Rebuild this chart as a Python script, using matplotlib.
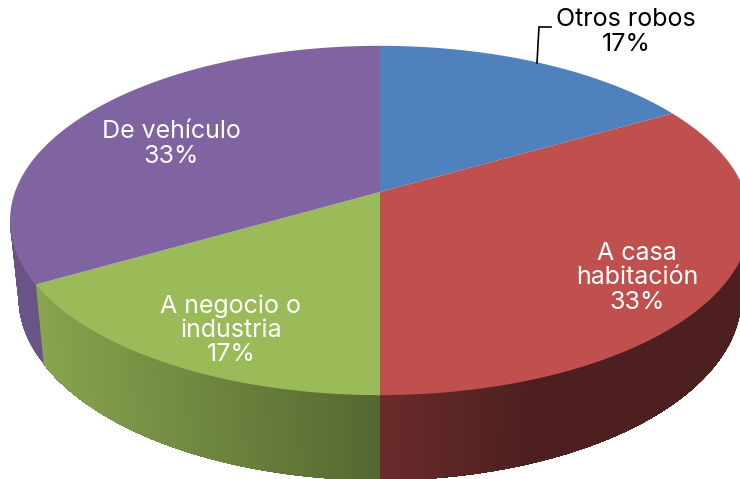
import numpy as np
import matplotlib
matplotlib.use("Agg")
import matplotlib.pyplot as plt

categories = ["Otros robos", "A casa\nhabitación", "A negocio o\nindustria", "De vehículo"]
shares = [16.67, 33.33, 16.67, 33.33]
colors = ["#4F81BD", "#C0504D", "#9BBB59", "#8064A2"]

# projection of the tilted disc, in pixels
CX, CY = 380.0, 192.0
A, B, P = 365.0, 170.0, 0.163
BOT_CY, BOT_SX, BOT_SY = 267.0, 0.977, 1.05
TANGENT = np.degrees(np.arccos(-P))


def top_rim(t):
    w = 1 + P * np.cos(t)
    return CX + A * np.sin(t) / w, CY - B * np.cos(t) / w


def bottom_rim(t):
    w = 1 + P * np.cos(t)
    return CX + BOT_SX * A * np.sin(t) / w, BOT_CY - BOT_SY * B * np.cos(t) / w


def shade(x, floor):
    f = np.interp(x, [35, 380, 530], [0.88, 0.55, 0.40])
    return min(f, floor)


plt.rcParams["font.family"] = ["Inter", "DejaVu Sans"]
fig = plt.figure(figsize=(7.40, 4.79), dpi=100)
ax = fig.add_axes([0, 0, 1, 1])
ax.set_xlim(0, 740)
ax.set_ylim(479, 0)
ax.axis("off")

edges = np.radians(np.concatenate([[0], np.cumsum(shares)]) / sum(shares) * 360)

# side wall: each strip runs on under the next one, so no seams show
for i, c in enumerate(colors):
    lo, hi = max(edges[i], np.radians(TANGENT)), min(edges[i + 1], np.radians(360 - TANGENT))
    if hi <= lo:
        continue
    ts = np.linspace(lo, hi, max(2, int((hi - lo) * 130)))
    base = np.array(matplotlib.colors.to_rgb(c))
    floor = 0.83 if i == 3 else 1.0
    for t0, t1 in zip(ts[:-1], ts[1:]):
        tail = np.linspace(t0, hi, 40)
        x0, y0 = top_rim(tail)
        x1, y1 = bottom_rim(tail[::-1])
        col = base * shade(top_rim(0.5 * (t0 + t1))[0], floor)
        ax.fill(np.r_[x0, x1], np.r_[y0, y1], facecolor=col, edgecolor="none", zorder=1)

# top face
for i, c in enumerate(colors):
    ts = np.linspace(edges[i], edges[i + 1], 200)
    x, y = top_rim(ts)
    ax.fill(np.r_[CX, x], np.r_[CY, y], facecolor=c, edgecolor="none", zorder=2)

# labels
label_pos = [(626, 32), (637, 278), (231, 330), (171, 144)]
label_col = ["black", "white", "white", "white"]
for name, s, (lx, ly), col in zip(categories, shares, label_pos, label_col):
    ax.text(lx, ly, f"{name}\n{round(s)}%", ha="center", va="center", color=col,
            fontsize=18, linespacing=1.06, zorder=3)

# leader line
ax.plot([537, 539, 551], [63, 27, 27], color="black", lw=1.2, zorder=3,
        solid_joinstyle="miter")

fig.savefig("out.png", dpi=100)
